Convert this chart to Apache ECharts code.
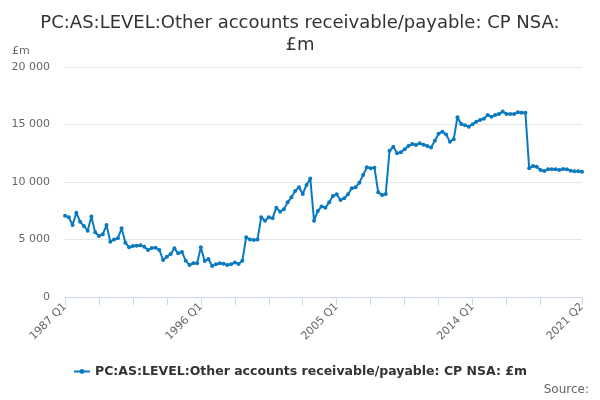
<!DOCTYPE html>
<html>
<head>
<meta charset="utf-8">
<script src="https://cdn.jsdelivr.net/npm/echarts@6/dist/echarts.min.js"></script>
<style>
  html, body { margin: 0; padding: 0; background: #fff; }
  #chart { width: 600px; height: 400px; }
</style>
</head>
<body>
<div id="chart"></div>
<script>
// quarter labels 1987 Q1 .. 2021 Q2
var quarters = [];
for (var y = 1987; y <= 2021; y++) {
    for (var q = 1; q <= 4; q++) {
        if (y === 2021 && q > 2) break;
        quarters.push(y + ' Q' + q);
    }
}

// values, £m
var values = [
    7070, 6930, 6260, 7330, 6550, 6170, 5770, 6990, 5620, 5300,
    5450, 6260, 4810, 5010, 5100, 5970, 4720, 4320, 4430, 4460,
    4490, 4380, 4090, 4260, 4290, 4090, 3220, 3510, 3740, 4230,
    3800, 3910, 3160, 2780, 2930, 2930, 4320, 3130, 3300, 2700,
    2840, 2930, 2900, 2780, 2840, 3010, 2870, 3160, 5190, 5010,
    4960, 4990, 6930, 6640, 6930, 6840, 7770, 7420, 7620, 8230,
    8670, 9220, 9540, 8960, 9740, 10300, 6640, 7480, 7880, 7770,
    8230, 8780, 8930, 8430, 8580, 8930, 9450, 9540, 9940, 10610,
    11280, 11190, 11250, 9100, 8870, 8960, 12720, 13070, 12490, 12580,
    12840, 13130, 13300, 13220, 13360, 13240, 13130, 13010, 13590, 14200,
    14380, 14120, 13510, 13710, 15630, 15040, 14930, 14810, 15020, 15250,
    15390, 15510, 15830, 15680, 15830, 15910, 16120, 15910, 15910, 15910,
    16060, 16030, 16030, 11190, 11390, 11330, 11040, 10960, 11100, 11100,
    11100, 11040, 11130, 11100, 10980, 10930, 10930, 10900
];

var labelIdx = [0, 36, 72, 108, 137];
var seriesName = 'PC:AS:LEVEL:Other accounts receivable/payable: CP NSA: £m';

var chart = echarts.init(document.getElementById('chart'));
chart.setOption({
    animation: false,
    textStyle: { fontFamily: 'DejaVu Sans' },
    title: {
        text: 'PC:AS:LEVEL:Other accounts receivable/payable: CP NSA:\n£m',
        left: 'center',
        top: 7,
        textStyle: { fontSize: 18, fontWeight: 'normal', color: '#333', lineHeight: 22 }
    },
    graphic: [
        { type: 'text', left: 12, top: 46, style: { text: '£m', fontSize: 11, fill: '#666', fontFamily: 'DejaVu Sans' } },
        { type: 'text', right: 11, top: 384, style: { text: 'Source:', fontSize: 12, fill: '#666', fontFamily: 'DejaVu Sans' } }
    ],
    legend: {
        bottom: 17,
        left: 'center',
        itemWidth: 16,
        itemHeight: 6,
        textStyle: { fontSize: 12.5, fontWeight: 'bold', color: '#333' },
        data: [seriesName]
    },
    grid: { left: 65, right: 18, top: 67, bottom: 103 },
    xAxis: {
        type: 'category',
        boundaryGap: false,
        data: quarters,
        axisLine: { lineStyle: { color: '#ccd6eb' } },
        axisTick: {
            length: 8,
            lineStyle: { color: '#ccd6eb' },
            interval: function (i) { return (i % 9 === 0 && i <= 126) || i === 137; }
        },
        axisLabel: {
            rotate: 45,
            color: '#666',
            fontSize: 11,
            margin: 8,
            interval: function (i) { return labelIdx.indexOf(i) >= 0; }
        }
    },
    yAxis: {
        type: 'value',
        min: 0,
        max: 20000,
        interval: 5000,
        axisLine: { show: false },
        axisTick: { show: false },
        splitLine: { lineStyle: { color: '#e6e6e6' } },
        axisLabel: {
            color: '#666',
            fontSize: 11,
            margin: 15,
            formatter: function (v) { return v >= 1000 ? String(v).replace(/(\d)(?=(\d{3})+$)/, '$1 ') : String(v); }
        }
    },
    series: [{
        name: seriesName,
        type: 'line',
        data: values,
        symbol: 'circle',
        symbolSize: 4,
        showAllSymbol: true,
        lineStyle: { width: 2, color: '#0a79bf' },
        itemStyle: { color: '#0a79bf' }
    }]
});
</script>
</body>
</html>
